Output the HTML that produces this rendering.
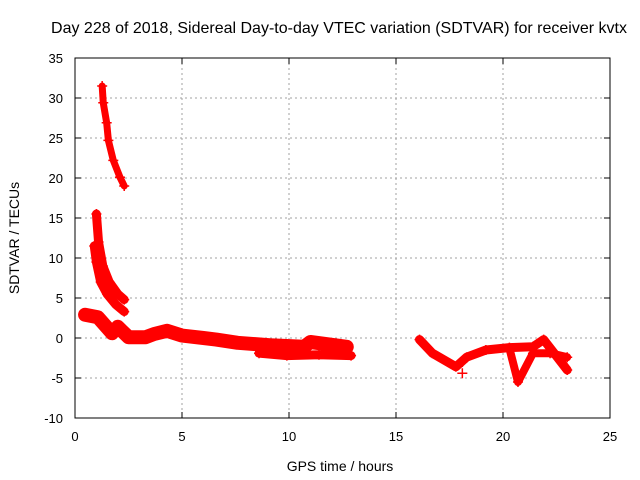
<!DOCTYPE html>
<html><head><meta charset="utf-8"><style>
body{margin:0;background:#fff;}
svg{display:block;font-family:"Liberation Sans",sans-serif;}
</style></head><body>
<svg id="chart" width="640" height="480">
<text x="339" y="33" text-anchor="middle" font-size="16">Day 228 of 2018, Sidereal Day-to-day VTEC variation (SDTVAR) for receiver kvtx</text>
<text transform="translate(19,238) rotate(-90)" text-anchor="middle" font-size="14">SDTVAR / TECUs</text>
<text x="340" y="471" text-anchor="middle" font-size="14">GPS time / hours</text>
<g id="grid"></g><g id="series"></g><g id="axes"></g>
</svg>
<script>
const xTicks=[0,5,10,15,20,25];
const yTicks=[-10,-5,0,5,10,15,20,25,30,35];
const trackA=[[1.27,31.5],[1.32,29.4],[1.48,26.9],[1.56,24.7],[1.79,22.2],[2.1,20.1],[2.3,19]];
const trackB1=[[1.0,15.5],[1.1,12],[1.3,9],[1.6,7],[2.0,5.5],[2.3,4.8]];
const trackB2=[[0.9,11.5],[1.0,9.5],[1.2,7],[1.5,5.5],[1.9,4.2],[2.3,3.3]];
const trackC=[[0.47,2.9],[1.07,2.6],[1.73,0.6],[2.0,1.4],[2.5,0.1],[3.3,0.1],[3.7,0.5],[4.3,0.9],[5,0.3],[6,0],[6.6,-0.2],[7.6,-0.6],[9.1,-0.9],[10.7,-1.1],[11,-0.5],[12.7,-1.1]];
const trackC2=[[8.6,-1.9],[9.9,-2.2],[11.4,-2.1],[12.9,-2.2]];
const trackD=[[16.1,-0.2],[16.7,-1.9],[17.8,-3.6],[18.3,-2.4],[19.2,-1.5],[20.3,-1.2],[21.4,-1.1],[21.9,-0.2],[23,-4]];
const trackD2=[[20.3,-1.3],[20.7,-5.5],[21.4,-1.9],[22.2,-1.9],[23,-2.4]];
const isolated=[[18.1,-3],[18.1,-4.4]];
const X0=75,X1=610,Y0=418,Y1=58;
const xs=v=>X0+(v-0)/(25-0)*(X1-X0);
const ys=v=>Y0-(v+10)/(45)*(Y0-Y1);
const NS='http://www.w3.org/2000/svg';
function mk(t,a,p){const e=document.createElementNS(NS,t);for(const k in a)e.setAttribute(k,a[k]);p.appendChild(e);return e;}
const grid=document.getElementById('grid'),axes=document.getElementById('axes'),ser=document.getElementById('series');
xTicks.forEach(t=>{
 if(t>0&&t<25){const g=mk('line',{x1:xs(t),x2:xs(t),y1:Y1,y2:Y0,stroke:'#a0a0a0','stroke-dasharray':'2,3'},grid);
 
 }
 mk('line',{x1:xs(t),x2:xs(t),y1:Y0,y2:Y0-6,stroke:'#000'},axes);
 mk('line',{x1:xs(t),x2:xs(t),y1:Y1,y2:Y1+6,stroke:'#000'},axes);
 const l=mk('text',{x:xs(t),y:Y0+23,'text-anchor':'middle','font-size':13},axes);l.textContent=t;
 
 
});
yTicks.forEach(t=>{
 if(t>-10&&t<35){const g=mk('line',{x1:X0,x2:X1,y1:ys(t),y2:ys(t),stroke:'#a0a0a0','stroke-dasharray':'2,3'},grid);
 
 }
 mk('line',{x1:X0,x2:X0+6,y1:ys(t),y2:ys(t),stroke:'#000'},axes);
 mk('line',{x1:X1,x2:X1-6,y1:ys(t),y2:ys(t),stroke:'#000'},axes);
 const l=mk('text',{x:X0-12,y:ys(t)+5,'text-anchor':'end','font-size':13},axes);l.textContent=t;
 
 
});
const f=mk('rect',{x:X0,y:Y1,width:X1-X0,height:Y0-Y1,fill:'none',stroke:'#000'},axes);


function track(arr,w,name){
 const p=mk('polyline',{points:arr.map(d=>xs(d[0])+','+ys(d[1])).join(' '),fill:'none',stroke:'#f00','stroke-width':w,'stroke-linejoin':'round','stroke-linecap':'round'},ser);
 
 
 arr.forEach(d=>plus(d));
}
function plus(d){
 const x=xs(d[0]),y=ys(d[1]);
 const m=mk('path',{d:`M${x-5},${y}H${x+5}M${x},${y-5}V${y+5}`,stroke:'#f00','stroke-width':1.5},ser);
 
 
}
track(trackA,7,'series-track-a');
track(trackB1,9,'series-track-b1');
track(trackB2,9,'series-track-b2');
track(trackC,14,'series-track-c');
track(trackC2,9,'series-track-c2');
track(trackD,9,'series-track-d');
track(trackD2,8,'series-track-d2');
isolated.forEach(plus);
</script>
</body></html>
